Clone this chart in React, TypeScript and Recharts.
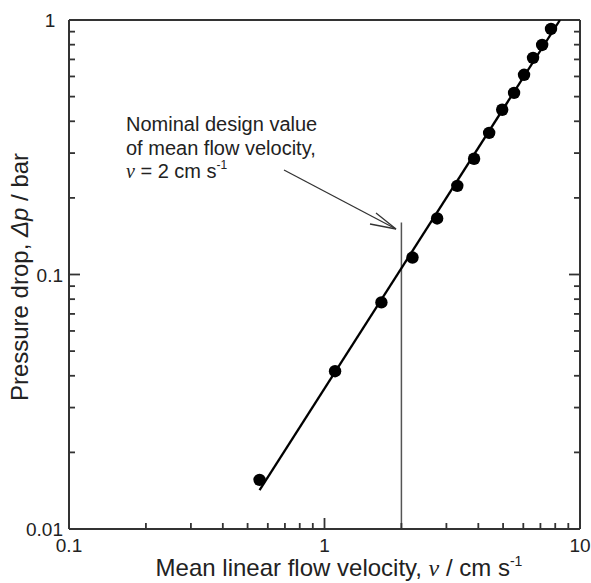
import React from "react"
import { ScatterChart, Scatter, XAxis, YAxis, ReferenceLine } from "recharts"

// measured points (mean linear velocity cm/s, pressure drop bar)
const velocity = [0.557, 1.1, 1.67, 2.21, 2.76, 3.31, 3.85, 4.41, 4.96, 5.52, 6.04, 6.55, 7.11, 7.7]
const pressureDrop = [0.0156, 0.0417, 0.0777, 0.1166, 0.166, 0.223, 0.285, 0.36, 0.444, 0.517, 0.609, 0.71, 0.798, 0.922]

// fitted line ends
const fitVelocity = [0.557, 8.35]
const fitPressure = [0.0142, 1.0]

// nominal design value marker
const designVelocity = 2
const designLineTop = 0.16

const xTicks = [0.1, 0.2, 0.3, 0.4, 0.5, 0.6, 0.7, 0.8, 0.9, 1, 2, 3, 4, 5, 6, 7, 8, 9, 10]
const yTicks = [0.01, 0.02, 0.03, 0.04, 0.05, 0.06, 0.07, 0.08, 0.09, 0.1, 0.2, 0.3, 0.4, 0.5, 0.6, 0.7, 0.8, 0.9, 1]

const points = velocity.map((v, i) => ({ x: v, y: pressureDrop[i] }))
const fitLine = fitVelocity.map((v, i) => ({ x: v, y: fitPressure[i] }))

const W = 591
const H = 583
const MARGIN = { top: 19, right: 10, bottom: 0, left: 0 }
const Y_AXIS_W = 69

const FONT = "'Liberation Sans', Arial, sans-serif"
const AXIS = "#333"
const TEXT = "#222"

const isMajor = (v: number) => Math.abs(Math.log10(v) - Math.round(Math.log10(v))) < 1e-6

// ticks point inward, labels only on decades
const makeTick = (side: "bottom" | "top" | "left" | "right") => (props: any) => {
  const x = Number(props.x)
  const y = Number(props.y)
  const v = props.payload.value
  const len = isMajor(v) ? 11 : 6
  let d = ""
  if (side === "bottom") d = `M${x},${y}L${x},${y - len}`
  else if (side === "top") d = `M${x},${y}L${x},${y + len}`
  else if (side === "left") d = `M${x},${y}L${x + len},${y}`
  else d = `M${x},${y}L${x - len},${y}`
  let label = null
  if (isMajor(v) && side === "bottom") {
    label = (
      <text x={x} y={y + 23} textAnchor="middle" fontSize={19} fill={TEXT} stroke="none" fontFamily={FONT}>
        {String(v)}
      </text>
    )
  }
  if (isMajor(v) && side === "left") {
    label = (
      <text
        x={v === 1 ? x - 19 : x - 6}
        y={y + 7}
        textAnchor={v === 1 ? "middle" : "end"}
        fontSize={19}
        fill={TEXT}
        stroke="none"
        fontFamily={FONT}
      >
        {String(v)}
      </text>
    )
  }
  return (
    <g>
      <path d={d} stroke={AXIS} strokeWidth={1.8} fill="none" />
      {label}
    </g>
  )
}

const Dot = (p: any) => <circle cx={p.cx} cy={p.cy} r={6.2} fill="#000" />
const NoDot = () => <g />

export default function App() {
  return (
    <div style={{ position: "absolute", left: 0, top: 0, width: W, height: H, background: "#fff" }}>
      <ScatterChart width={W} height={H} margin={MARGIN}>
        <XAxis
          xAxisId={0}
          dataKey="x"
          type="number"
          scale="log"
          domain={[0.1, 10]}
          allowDataOverflow
          ticks={xTicks}
          interval={0}
          height={54}
          tickSize={0}
          tickMargin={0}
          tickLine={false}
          axisLine={{ stroke: AXIS, strokeWidth: 2 }}
          tick={makeTick("bottom")}
        />
        <XAxis
          xAxisId="t"
          orientation="top"
          type="number"
          scale="log"
          domain={[0.1, 10]}
          allowDataOverflow
          ticks={xTicks}
          interval={0}
          height={1}
          tickSize={0}
          tickMargin={0}
          tickLine={false}
          axisLine={{ stroke: AXIS, strokeWidth: 2 }}
          tick={makeTick("top")}
        />
        <YAxis
          yAxisId={0}
          dataKey="y"
          type="number"
          scale="log"
          domain={[0.01, 1]}
          allowDataOverflow
          ticks={yTicks}
          interval={0}
          width={Y_AXIS_W}
          tickSize={0}
          tickMargin={0}
          tickLine={false}
          axisLine={{ stroke: AXIS, strokeWidth: 2 }}
          tick={makeTick("left")}
        />
        <YAxis
          yAxisId="r"
          orientation="right"
          type="number"
          scale="log"
          domain={[0.01, 1]}
          allowDataOverflow
          ticks={yTicks}
          interval={0}
          width={1}
          tickSize={0}
          tickMargin={0}
          tickLine={false}
          axisLine={{ stroke: AXIS, strokeWidth: 2 }}
          tick={makeTick("right")}
        />
        <ReferenceLine
          segment={[
            { x: designVelocity, y: designLineTop },
            { x: designVelocity, y: 0.01 },
          ]}
          stroke="#555"
          strokeWidth={1.5}
        />
        <Scatter
          data={fitLine}
          line={{ stroke: "#000", strokeWidth: 2.3 }}
          shape={NoDot}
          isAnimationActive={false}
        />
        <Scatter data={points} shape={Dot} isAnimationActive={false} />
      </ScatterChart>

      <svg
        width={W}
        height={H}
        style={{ position: "absolute", left: 0, top: 0, pointerEvents: "none" }}
        fontFamily={FONT}
        fill={TEXT}
      >
        <text fontSize={20}>
          <tspan x={126} y={131}>Nominal design value</tspan>
          <tspan x={126} y={154.5}>of mean flow velocity,</tspan>
          <tspan x={126} y={178}>
            <tspan fontFamily="'Liberation Serif', serif" fontStyle="italic">v</tspan> = 2 cm s
            <tspan dy={-9} fontSize={12}>-1</tspan>
          </tspan>
        </text>
        <g stroke="#333" strokeWidth={1.3} fill="none">
          <line x1={284} y1={170} x2={396} y2={229} />
          <polyline points="376,213 396,229 370,224" />
        </g>
        <text x={339} y={576} fontSize={24} textAnchor="middle">
          Mean linear flow velocity, <tspan fontFamily="'Liberation Serif', serif" fontStyle="italic">v</tspan> / cm s
          <tspan dy={-10} fontSize={14}>-1</tspan>
        </text>
        <text transform="translate(28,277) rotate(-90)" fontSize={24} textAnchor="middle">
          Pressure drop, <tspan fontStyle="italic">Δp</tspan> / bar
        </text>
      </svg>
    </div>
  )
}
